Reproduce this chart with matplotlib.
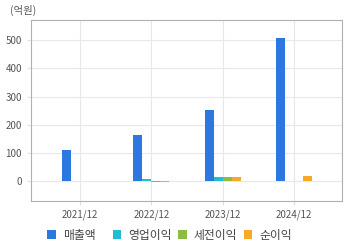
import numpy as np
import matplotlib.pyplot as plt

plt.rcParams['font.family'] = ['Noto Sans CJK KR', 'DejaVu Sans']

# data (억원)
years = ['2021/12', '2022/12', '2023/12', '2024/12']
series = ['매출액', '영업이익', '세전이익', '순이익']
sales = [111, 164, 253, 508]
op_profit = [2, 8, 16, 0]
pretax = [0, -4, 16, 2]
net = [0, -4, 16, 20]
colors = ['#2b79e0', '#1ebdd1', '#8bbd45', '#f9a825']

fig = plt.figure(figsize=(3.6, 2.48), dpi=100)
ax = fig.add_axes([31 / 360, 1 - 201 / 248, 311 / 360, 181 / 248])

x = np.arange(len(years))
w = 0.126
bars = []
for i, (name, vals) in enumerate(zip(series, [sales, op_profit, pretax, net])):
    b = ax.bar(x + (i - 1.5) * w, vals, w, color=colors[i], label=name, zorder=3)
    bars.append(b)

ax.set_xlim(-0.685, 3.67)
ax.set_ylim(-70, 572)
ax.set_yticks([0, 100, 200, 300, 400, 500])
ax.set_xticks(x)
ax.set_xticklabels(years)
ax.grid(True, color='#e8e8e8', linewidth=0.8, zorder=0)
for s in ax.spines.values():
    s.set_color('#b0b0b0')
ax.tick_params(axis='both', colors='#e0e0e0', labelcolor='#555555', labelsize=7, length=3)
ax.tick_params(axis='x', pad=3)

fig.text(10 / 360, 1 - 10 / 248, '(억원)', fontsize=7.5, color='#555555', va='center')

# legend entries spaced evenly like the original
for i, (b, name) in enumerate(zip(bars, series)):
    leg = fig.legend([b], [name], loc='center left',
                     bbox_to_anchor=((47 + 65.5 * i) / 360, 1 - 235 / 248),
                     frameon=False, fontsize=8.5, handlelength=0.75, handleheight=0.75,
                     handletextpad=0.6, borderpad=0, borderaxespad=0, labelcolor='#444444')

fig.savefig('out.png', dpi=100)
